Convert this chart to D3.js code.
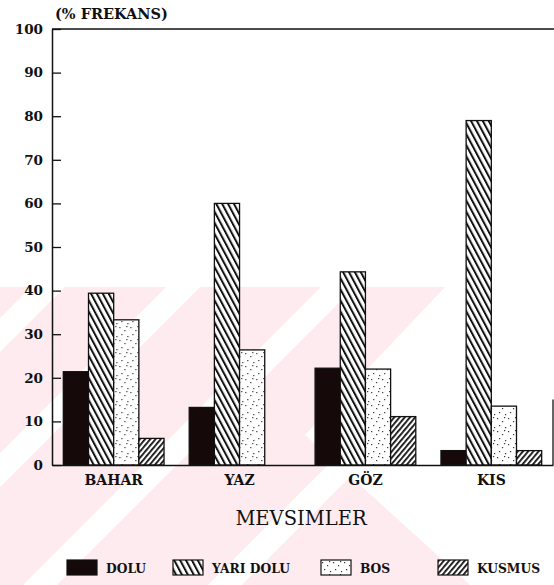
<!DOCTYPE html>
<html>
<head>
<meta charset="utf-8">
<script src="https://cdn.jsdelivr.net/npm/d3@7"></script>
<style>
  html, body { margin: 0; padding: 0; background: #fff; }
  svg { display: block; }
</style>
</head>
<body>
<div id="chart"></div>
<script>
// ---- data ----
const categories = ["BAHAR", "YAZ", "GÖZ", "KIS"];
const seriesNames = ["DOLU", "YARI DOLU", "BOS", "KUSMUS"];
const dolu     = [21.4, 13.2, 22.2, 3.3];
const yariDolu = [39.4, 60.0, 44.3, 79.0];
const bos      = [33.3, 26.4, 22.0, 13.5];
const kusmus   = [6.1, 0, 11.1, 3.3];
const yTicks   = [0, 10, 20, 30, 40, 50, 60, 70, 80, 90, 100];
const yTitle = "(% FREKANS)";
const xTitle = "MEVSIMLER";
// watermark stripe offsets (x + y = offset)
const stripeOffsets = [335, 470, 625, 810];

const W = 554, H = 585;
const seriesValues = [dolu, yariDolu, bos, kusmus];
const rows = categories.map(function (cat, i) {
  return {
    cat: cat,
    vals: seriesNames.map(function (s, j) { return { key: s, value: seriesValues[j][i] }; })
  };
});

const svg = d3.select("#chart").append("svg").attr("width", W).attr("height", H);
const defs = svg.append("defs");

// patterns
const pYari = defs.append("pattern").attr("id", "pYari")
  .attr("patternUnits", "userSpaceOnUse").attr("width", 5.2).attr("height", 10)
  .attr("patternTransform", "rotate(-28)");
pYari.append("rect").attr("width", 5.2).attr("height", 10).attr("fill", "#fff");
pYari.append("rect").attr("x", 0).attr("width", 2).attr("height", 10).attr("fill", "#111");

const pKus = defs.append("pattern").attr("id", "pKus")
  .attr("patternUnits", "userSpaceOnUse").attr("width", 4).attr("height", 10)
  .attr("patternTransform", "rotate(40)");
pKus.append("rect").attr("width", 4).attr("height", 10).attr("fill", "#fff");
pKus.append("rect").attr("x", 0).attr("width", 1.8).attr("height", 10).attr("fill", "#111");

const pBos = defs.append("pattern").attr("id", "pBos")
  .attr("patternUnits", "userSpaceOnUse").attr("width", 11).attr("height", 13);
pBos.append("rect").attr("width", 11).attr("height", 13).attr("fill", "#fff");
const bosDots = [[1, 2], [6, 5], [3, 9], [9, 11], [8, 1]];
bosDots.forEach(function (p) {
  pBos.append("rect").attr("x", p[0]).attr("y", p[1]).attr("width", 1.2).attr("height", 1.2).attr("fill", "#333");
});

const fills = { "DOLU": "#160909", "YARI DOLU": "url(#pYari)", "BOS": "url(#pBos)", "KUSMUS": "url(#pKus)" };

// watermark
defs.append("clipPath").attr("id", "wmClip").append("polygon")
  .attr("points", "0,287 445,287 305,435 470,585 0,585");
const wm = svg.append("g").attr("clip-path", "url(#wmClip)");
wm.append("rect").attr("x", 0).attr("y", 0).attr("width", W).attr("height", H).attr("fill", "#fdebef");
wm.selectAll("line").data(stripeOffsets).join("line")
  .attr("x1", function (d) { return d + 400; }).attr("y1", -400)
  .attr("x2", function (d) { return d - 900; }).attr("y2", 900)
  .attr("stroke", "#fff").attr("stroke-width", 24);

// scales
const x0 = d3.scaleBand().domain(categories).range([52, 553]).paddingInner(0.2).paddingOuter(0.09);
const x1 = d3.scaleBand().domain(seriesNames).range([0, x0.bandwidth()]);
const y = d3.scaleLinear().domain([0, 100]).range([465, 29]);

// bars
const g = svg.append("g");
g.selectAll("g").data(rows).join("g")
  .attr("transform", function (d) { return "translate(" + x0(d.cat) + ",0)"; })
  .selectAll("rect").data(function (d) { return d.vals.filter(function (v) { return v.value > 0; }); }).join("rect")
  .attr("x", function (v) { return x1(v.key); })
  .attr("y", function (v) { return y(v.value); })
  .attr("width", x1.bandwidth())
  .attr("height", function (v) { return y(0) - y(v.value); })
  .attr("fill", function (v) { return fills[v.key]; })
  .attr("stroke", "#111").attr("stroke-width", 1.3);

// y axis
const yAxis = d3.axisLeft(y).tickValues(yTicks).tickSizeInner(-9).tickSizeOuter(0).tickPadding(9);
const ya = svg.append("g").attr("transform", "translate(52,0)").call(yAxis);
ya.select(".domain").attr("stroke", "#111").attr("stroke-width", 1.5);
ya.selectAll(".tick line").attr("stroke", "#111").attr("stroke-width", 1.3);
ya.selectAll(".tick text").attr("font-family", "DejaVu Serif").attr("font-weight", "bold")
  .attr("font-size", 13.5).attr("fill", "#111");

// x axis (baseline, no ticks)
const xAxis = d3.axisBottom(x0).tickSize(0).tickPadding(10).tickSizeOuter(0);
const xa = svg.append("g").attr("transform", "translate(0," + y(0) + ")").call(xAxis);
xa.select(".domain").attr("stroke", "#111").attr("stroke-width", 1.5);
xa.selectAll(".tick text").attr("font-family", "DejaVu Serif").attr("font-weight", "bold")
  .attr("font-size", 14).attr("fill", "#111");

// frame: top line and short right line
svg.append("line").attr("x1", 52).attr("x2", 554).attr("y1", y(100)).attr("y2", y(100))
  .attr("stroke", "#111").attr("stroke-width", 1.5);
svg.append("line").attr("x1", 553).attr("x2", 553).attr("y1", y(15)).attr("y2", y(0))
  .attr("stroke", "#111").attr("stroke-width", 1.3);

// titles
svg.append("text").attr("x", 55).attr("y", 19).text(yTitle)
  .attr("font-family", "DejaVu Serif").attr("font-weight", "bold").attr("font-size", 14.5).attr("fill", "#111");
svg.append("text").attr("x", 301).attr("y", 525).attr("text-anchor", "middle").text(xTitle)
  .attr("font-family", "DejaVu Serif").attr("font-size", 19.5).attr("fill", "#111");

// legend
const legendX = [67, 173, 321, 438];
const lg = svg.append("g").selectAll("g").data(seriesNames).join("g")
  .attr("transform", function (d, i) { return "translate(" + legendX[i] + ",560)"; });
lg.append("rect").attr("width", 30).attr("height", 15)
  .attr("fill", function (d) { return fills[d]; }).attr("stroke", "#111").attr("stroke-width", 1.2);
lg.append("text").attr("x", 39).attr("y", 12.5).text(function (d) { return d; })
  .attr("font-family", "DejaVu Serif").attr("font-weight", "bold").attr("font-size", 12.3).attr("fill", "#111");
</script>
</body>
</html>
